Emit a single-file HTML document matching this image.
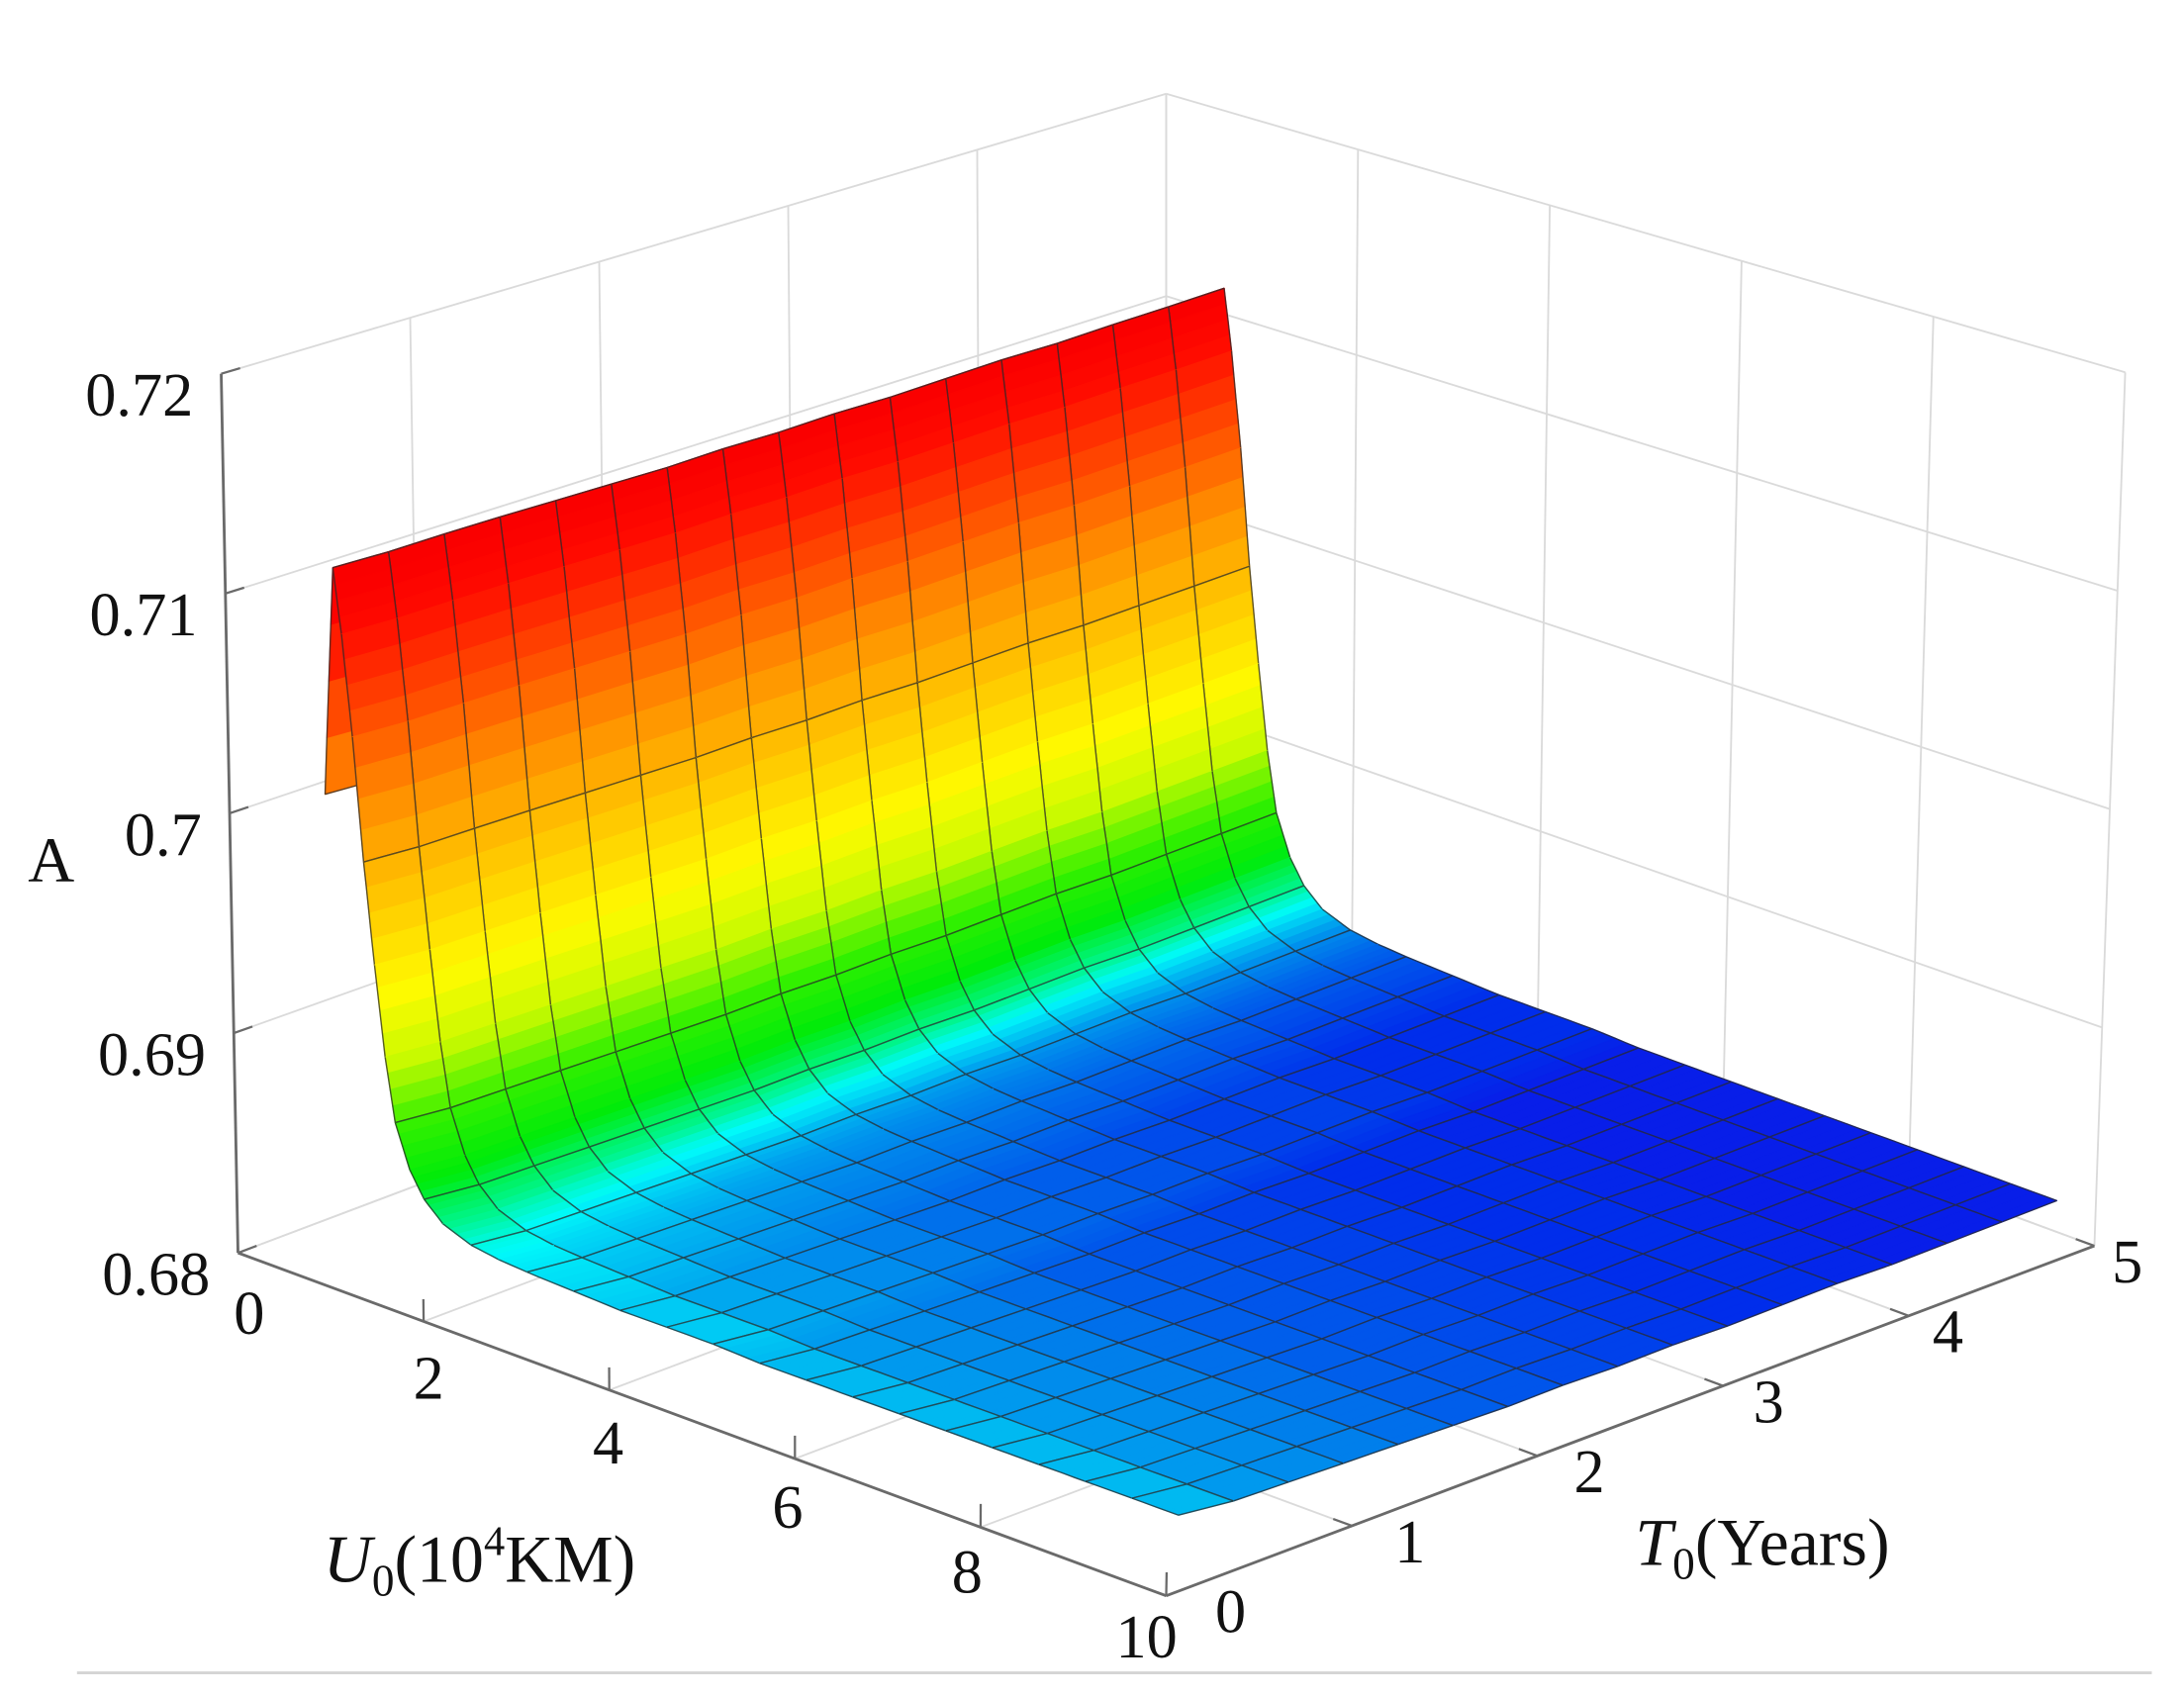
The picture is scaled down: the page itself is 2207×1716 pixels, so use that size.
<!DOCTYPE html>
<html><head><meta charset="utf-8"><title>Surface A(U0,T0)</title>
<style>
html,body{margin:0;padding:0;background:#fff;}
svg{display:block;}
text{font-family:"Liberation Serif","DejaVu Serif",serif;fill:#111;}
</style></head>
<body>
<svg id="chart" xmlns="http://www.w3.org/2000/svg" width="2207" height="1716" viewBox="0 0 1560 1213" preserveAspectRatio="none">
  <g id="grid"></g>
  <g id="axes"></g>
  <g id="surface"></g>
  <g id="labels"></g>
  <text x="20" y="630" font-size="46">A</text>
  <text x="231" y="1130" font-size="48"><tspan font-style="italic">U</tspan><tspan font-size="32" dy="10">0</tspan><tspan dy="-10">(10</tspan><tspan font-size="30" dy="-19">4</tspan><tspan dy="19">KM)</tspan></text>
  <text x="1168" y="1118" font-size="48"><tspan font-style="italic">T</tspan><tspan font-size="32" dy="10">0</tspan><tspan dy="-10">(Years)</tspan></text>
  <line x1="55" y1="1195" x2="1537" y2="1195" stroke="#d4d4d4" stroke-width="2"/>
</svg>
<script>
// ---- data ----
const zTicks = [0.68, 0.69, 0.70, 0.71, 0.72];
const zTickLabels = ["0.68", "0.69", "0.7", "0.71", "0.72"];
const uTicks = [0, 2, 4, 6, 8, 10];
const uTickLabels = ["0", "2", "4", "6", "8", "10"];
const tTicks = [0, 1, 2, 3, 4, 5];
const tTickLabels = ["0", "1", "2", "3", "4", "5"];
const uGrid = [0.9,1.02,1.1,1.2,1.3,1.4,1.5,1.6,1.75,1.9,2.1,2.4,2.7,3.0,3.5,4,4.5,5,5.5,6,6.5,7,7.5,8,8.5,9,9.5,10];
const uMesh = [1,1,0,0,1,0,0,1,0,1,0,1,0,1,1,1,1,1,1,1,1,1,1,1,1,1,1,1];
const tGrid = [0,0.3125,0.625,0.9375,1.25,1.5625,1.875,2.1875,2.5,2.8125,3.125,3.4375,3.75,4.0625,4.375,4.6875,5];
const frontProfile = [0.7020,0.7124,0.7095,0.7050,0.6995,0.6950,0.6910,0.6882,0.6863,0.6852,0.6844,0.6839,0.6837,0.6836,0.6835,0.6834,0.6834,0.6834,0.6833,0.6833,0.6833,0.6833,0.6833,0.6833,0.6833,0.6833,0.6833,0.6833];
const floorByT = [0.6833,0.6830,0.6829,0.6828,0.6827,0.6826,0.6825,0.6825,0.6824,0.6824,0.6823,0.6823,0.6823,0.6822,0.6822,0.6822,0.6822];
const ridgeGain = [1.0,1.007,1.010,1.012,1.013,1.014,1.015,1.016,1.017,1.018,1.019,1.020,1.021,1.022,1.023,1.023,1.024];

// ---- colormap (style) ----
const cmap = [[0.6821,[15,15,230]],[0.6823,[0,45,235]],[0.6825,[0,85,235]],[0.6827,[0,120,235]],[0.6830,[0,160,238]],[0.6833,[0,210,245]],[0.6836,[0,250,250]],[0.6842,[0,245,140]],[0.6856,[0,235,10]],[0.6878,[50,240,0]],[0.6905,[200,250,0]],[0.6935,[255,250,0]],[0.6975,[255,200,0]],[0.7020,[255,140,0]],[0.7060,[255,70,0]],[0.7095,[255,10,0]],[0.7115,[250,0,0]]];
function color(z){
  if(z<=cmap[0][0]) return 'rgb('+cmap[0][1].join(',')+')';
  for(let i=1;i<cmap.length;i++){
    if(z<=cmap[i][0]){
      const f=(z-cmap[i-1][0])/(cmap[i][0]-cmap[i-1][0]);
      const a=cmap[i-1][1], b=cmap[i][1];
      return 'rgb('+a.map((v,k)=>Math.round(v+(b[k]-v)*f)).join(',')+')';
    }
  }
  return 'rgb('+cmap[cmap.length-1][1].join(',')+')';
}
// ---- projection ----
function P(u,t,z){
  const bx=170+66.3*u+132.6*t, by=895+24.5*u-50*t;
  const h=(z-0.68)/0.01;
  const k=157+1.15*u-2.5*t, sx=-3+0.55*u+0.6*t;
  return [bx+sx*h, by-k*h];
}
function PS(u,t,z){ const p=P(u,t,z); return [p[0]+8-36*t/5, p[1]-2+4*t/5]; }
function A(i,j){ return floorByT[j]+(frontProfile[i]-frontProfile[frontProfile.length-1])*ridgeGain[j]; }
const NS='http://www.w3.org/2000/svg';
function line(g,p,q,stroke,w,name){
  const l=document.createElementNS(NS,'line');
  l.setAttribute('x1',p[0].toFixed(1));l.setAttribute('y1',p[1].toFixed(1));
  l.setAttribute('x2',q[0].toFixed(1));l.setAttribute('y2',q[1].toFixed(1));
  l.setAttribute('stroke',stroke);l.setAttribute('stroke-width',w);
  
  
  g.appendChild(l);
}
const zmin=zTicks[0], zmax=zTicks[zTicks.length-1];
const umax=uTicks[uTicks.length-1], tmax=tTicks[tTicks.length-1];
// gridlines
const grid=document.getElementById('grid');
const gc='#dadada', gw=1.3;
zTicks.forEach(z=>{ line(grid,P(0,0,z),P(0,tmax,z),gc,gw,'left-wall-gridline'); line(grid,P(0,tmax,z),P(umax,tmax,z),gc,gw,'back-wall-gridline'); });
tTicks.forEach(t=>{ line(grid,P(0,t,zmin),P(0,t,zmax),gc,gw,'left-wall-vertical-gridline'); line(grid,P(0,t,zmin),P(umax,t,zmin),gc,gw,'floor-gridline-t'); });
uTicks.forEach(u=>{ line(grid,P(u,tmax,zmin),P(u,tmax,zmax),gc,gw,'back-wall-vertical-gridline'); line(grid,P(u,0,zmin),P(u,tmax,zmin),gc,gw,'floor-gridline-u'); });
// axes
const axes=document.getElementById('axes');
const ac='#6a6a6a';
line(axes,P(0,0,zmin),P(0,0,zmax),ac,2,'z-axis-line');
line(axes,P(0,0,zmin),P(umax,0,zmin),ac,2,'u-axis-line');
line(axes,P(umax,0,zmin),P(umax,tmax,zmin),ac,2,'t-axis-line');
zTicks.forEach(z=>line(axes,P(0,0,z),P(0,0.1,z),ac,1.6,'z-tick'));
uTicks.forEach(u=>line(axes,P(u,0,zmin),P(u,0,zmin+0.001),ac,1.6,'u-tick'));
tTicks.forEach(t=>line(axes,P(umax,t,zmin),P(umax-0.2,t,zmin),ac,1.6,'t-tick'));
// labels
const labels=document.getElementById('labels');
function txt(x,y,s,anchor,name){
  const e=document.createElementNS(NS,'text');
  e.setAttribute('x',x.toFixed(1));e.setAttribute('y',y.toFixed(1));
  e.setAttribute('font-size','44');e.setAttribute('text-anchor',anchor);
  e.textContent=s;
  
  
  labels.appendChild(e);
}
zTicks.forEach((z,i)=>{const p=P(0,0,z);txt(p[0]-20,p[1]+30,zTickLabels[i],'end','z-tick-label');});
uTicks.forEach((u,i)=>{const p=P(u,0,zmin);txt(p[0]+8-2.2*u,p[1]+58-1.4*u,uTickLabels[i],'middle','u-tick-label');});
tTicks.forEach((t,i)=>{const p=P(umax,t,zmin);txt(p[0]+46-4.5*t,p[1]+26,tTickLabels[i],'middle','t-tick-label');});
// surface
const surf=document.getElementById('surface');
const cells=[];
for(let i=0;i<uGrid.length-1;i++)for(let j=0;j<tGrid.length-1;j++){
  cells.push({i,j,d:(uGrid[i]+uGrid[i+1])/20-(tGrid[j]+tGrid[j+1])/10});
}
cells.sort((a,b)=>a.d-b.d);
const NSUB=4;
cells.forEach(c=>{
  const {i,j}=c;
  const g=document.createElementNS(NS,'g');
  
  
  const t0=tGrid[j], t1=tGrid[j+1];
  const edge0=[], edge1=[];
  for(let s=0;s<=NSUB;s++){
    const f=s/NSUB;
    const u=uGrid[i]+(uGrid[i+1]-uGrid[i])*f;
    const z0=A(i,j)+(A(i+1,j)-A(i,j))*f;
    const z1=A(i,j+1)+(A(i+1,j+1)-A(i,j+1))*f;
    edge0.push({p:PS(u,t0,z0),z:z0}); edge1.push({p:PS(u,t1,z1),z:z1});
  }
  let html='';
  for(let s=0;s<NSUB;s++){
    const pts=[edge0[s].p,edge0[s+1].p,edge1[s+1].p,edge1[s].p];
    const zc=(edge0[s].z+edge0[s+1].z+edge1[s].z+edge1[s+1].z)/4;
    const col=color(zc);
    html+='<polygon points="'+pts.map(p=>p[0].toFixed(1)+','+p[1].toFixed(1)).join(' ')+'" fill="'+col+'" stroke="'+col+'" stroke-width="0.8" stroke-linejoin="round"/>';
  }
  const pl=a=>a.map(e=>e.p[0].toFixed(1)+','+e.p[1].toFixed(1)).join(' ');
  const ms='stroke="#2a2a2a" stroke-opacity="0.75" stroke-width="1" fill="none"';
  html+='<polyline points="'+pl(edge0)+'" '+ms+'/>';
  html+='<polyline points="'+pl(edge1)+'" '+ms+'/>';
  if(uMesh[i]) html+='<line x1="'+edge0[0].p[0].toFixed(1)+'" y1="'+edge0[0].p[1].toFixed(1)+'" x2="'+edge1[0].p[0].toFixed(1)+'" y2="'+edge1[0].p[1].toFixed(1)+'" '+ms+'/>';
  if(uMesh[i+1]) html+='<line x1="'+edge0[NSUB].p[0].toFixed(1)+'" y1="'+edge0[NSUB].p[1].toFixed(1)+'" x2="'+edge1[NSUB].p[0].toFixed(1)+'" y2="'+edge1[NSUB].p[1].toFixed(1)+'" '+ms+'/>';
  g.innerHTML=html;
  surf.appendChild(g);
});
</script>
</body></html>
